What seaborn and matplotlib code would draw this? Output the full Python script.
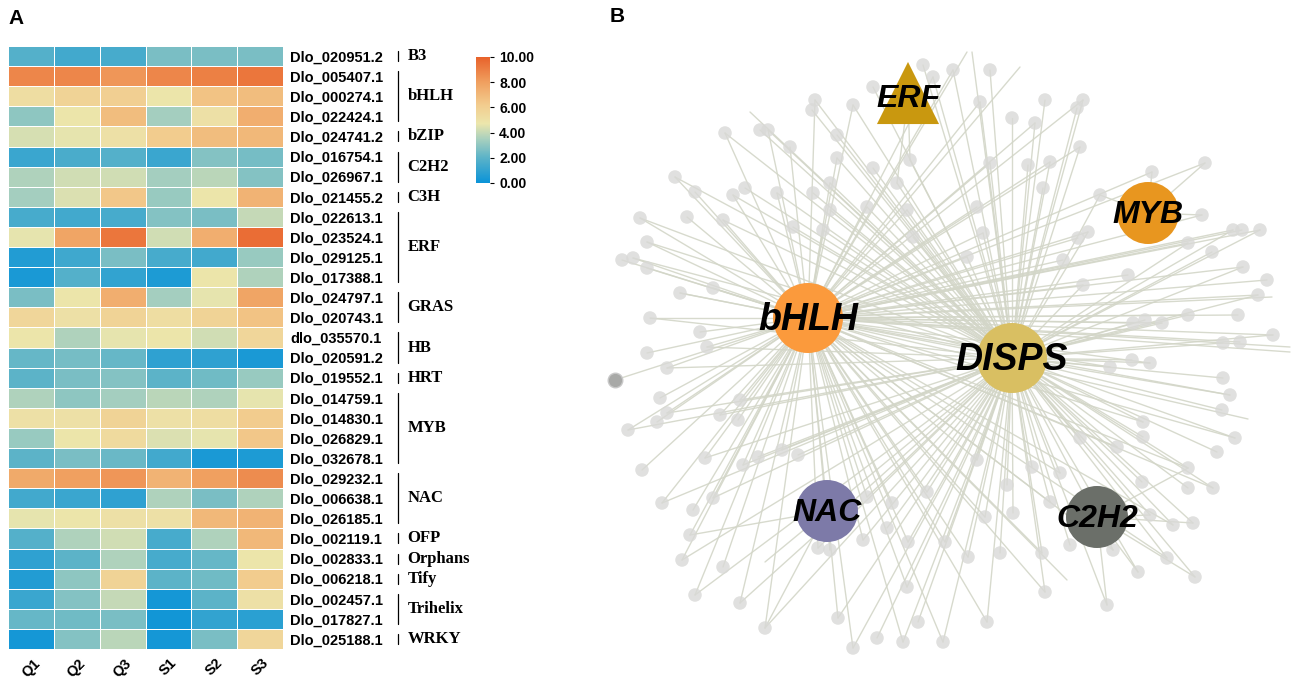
import numpy as np
import pandas as pd
import matplotlib
matplotlib.use('Agg')
import matplotlib.pyplot as plt
import seaborn as sns
from matplotlib.colors import LinearSegmentedColormap
from matplotlib.transforms import blended_transform_factory

sns.set_style('white')
plt.rcParams['font.family'] = ['Liberation Sans', 'DejaVu Sans']
plt.rcParams['text.color'] = 'black'
plt.rcParams['xtick.color'] = 'black'
plt.rcParams['ytick.color'] = 'black'

# ---------------- panel A data ----------------
samples = ['Q1', 'Q2', 'Q3', 'S1', 'S2', 'S3']
genes = ['Dlo_020951.2', 'Dlo_005407.1', 'Dlo_000274.1', 'Dlo_022424.1', 'Dlo_024741.2',
         'Dlo_016754.1', 'Dlo_026967.1', 'Dlo_021455.2', 'Dlo_022613.1', 'Dlo_023524.1',
         'Dlo_029125.1', 'Dlo_017388.1', 'Dlo_024797.1', 'Dlo_020743.1', 'dlo_035570.1',
         'Dlo_020591.2', 'Dlo_019552.1', 'Dlo_014759.1', 'Dlo_014830.1', 'Dlo_026829.1',
         'Dlo_032678.1', 'Dlo_029232.1', 'Dlo_006638.1', 'Dlo_026185.1', 'Dlo_002119.1',
         'Dlo_002833.1', 'Dlo_006218.1', 'Dlo_002457.1', 'Dlo_017827.1', 'Dlo_025188.1']
expr = [
    [1.8, 1.4, 1.5, 2.6, 2.6, 2.6],
    [8.8, 8.8, 8.3, 8.8, 9.0, 9.3],
    [5.2, 5.8, 6.0, 4.8, 6.6, 6.8],
    [3.0, 4.8, 6.8, 3.4, 5.0, 7.4],
    [4.3, 4.6, 5.0, 6.2, 6.8, 7.0],
    [1.2, 1.6, 1.8, 1.2, 2.8, 2.5],
    [3.6, 4.2, 4.2, 3.4, 3.8, 2.8],
    [3.4, 4.4, 6.4, 3.2, 4.8, 7.2],
    [1.5, 1.4, 1.5, 2.8, 2.6, 4.0],
    [4.6, 7.8, 9.3, 4.2, 7.4, 9.6],
    [0.6, 1.3, 2.6, 1.5, 1.4, 3.2],
    [0.4, 1.8, 1.0, 0.5, 4.8, 3.6],
    [2.6, 4.8, 7.4, 3.4, 4.6, 7.8],
    [5.6, 5.0, 5.8, 5.2, 5.8, 6.6],
    [4.8, 3.6, 4.6, 4.8, 4.2, 5.6],
    [2.2, 2.5, 2.2, 0.9, 0.9, 0.4],
    [2.0, 2.6, 2.8, 2.0, 2.4, 3.2],
    [3.6, 3.0, 3.4, 3.8, 3.6, 4.6],
    [5.0, 5.0, 5.8, 5.0, 5.2, 6.2],
    [3.2, 4.8, 5.4, 4.4, 4.6, 6.4],
    [2.0, 2.6, 2.3, 1.4, 0.4, 0.5],
    [7.6, 8.0, 8.3, 7.2, 8.0, 8.6],
    [1.4, 1.2, 0.9, 3.6, 2.6, 3.6],
    [4.6, 4.8, 5.0, 5.0, 7.0, 7.2],
    [1.8, 3.6, 4.2, 1.5, 3.6, 7.0],
    [0.9, 2.0, 3.6, 1.5, 2.2, 4.8],
    [0.6, 3.0, 5.8, 2.0, 2.4, 6.2],
    [1.2, 2.8, 4.0, 0.3, 2.0, 5.0],
    [2.2, 2.4, 2.6, 0.2, 1.0, 0.8],
    [0.3, 2.8, 3.8, 0.3, 2.6, 5.6],
]
families = ['B3', 'bHLH', 'bZIP', 'C2H2', 'C3H', 'ERF', 'GRAS', 'HB', 'HRT',
            'MYB', 'NAC', 'OFP', 'Orphans', 'Tify', 'Trihelix', 'WRKY']
family_sizes = [1, 3, 1, 2, 1, 4, 2, 2, 1, 4, 3, 1, 1, 1, 2, 1]

# ---------------- panel B data ----------------
# hubs, positions in picture pixels
hub_names = ['bHLH', 'DISPS', 'ERF', 'MYB', 'NAC', 'C2H2']
hub_codes = ['b', 'd', 'e', 'm', 'n', 'c']
hub_x = [808, 1012, 908, 1148, 827, 1097]
hub_y = [318, 358, 97, 213, 511, 517]
hub_colors = ['#fb9a3c', '#d9bf62', '#c9980f', '#e8961f', '#7d7aa8', '#6b6f69']

# target genes: (x, y, hubs they link to)
targets = [
    (923, 65, 'd'), (933, 77, 'bd'), (873, 87, 'd'), (815, 100, 'bd'), (812, 110, 'd'),
    (853, 105, 'bd'), (725, 133, 'bd'), (760, 130, 'd'), (768, 130, 'bd'), (790, 147, 'b'),
    (837, 135, 'd'), (837, 158, 'bd'), (910, 160, 'de'), (873, 168, 'd'), (675, 177, 'bd'),
    (695, 192, 'b'), (733, 195, 'bd'), (745, 188, 'd'), (777, 193, 'bd'), (813, 193, 'd'),
    (830, 183, 'bd'), (897, 183, 'de'), (953, 70, 'bd'), (990, 70, 'd'), (980, 102, 'bd'),
    (1012, 118, 'd'), (1035, 123, 'bd'), (1045, 100, 'd'), (1083, 100, 'bd'), (1077, 108, 'd'),
    (1080, 147, 'bd'), (1028, 165, 'd'), (1050, 162, 'bd'), (1043, 188, 'd'), (990, 163, 'bd'),
    (1100, 195, 'dm'), (1152, 172, 'bm'), (1205, 163, 'bm'),
    (640, 218, 'bd'), (687, 217, 'b'), (723, 220, 'bd'), (793, 227, 'd'), (823, 230, 'bd'),
    (647, 242, 'bd'), (622, 260, 'b'), (633, 258, 'bd'), (647, 268, 'b'), (680, 293, 'bd'),
    (713, 288, 'b'), (907, 210, 'bd'), (913, 237, 'd'), (867, 207, 'bd'), (830, 210, 'd'),
    (1202, 215, 'bm'), (1233, 230, 'bd'), (1242, 230, 'b'), (1260, 230, 'bd'), (1088, 232, 'bd'),
    (1078, 238, 'b'), (1188, 243, 'bd'), (1212, 252, 'd'), (1243, 267, 'bd'), (1267, 280, 'b'),
    (1258, 295, 'bd'), (1128, 275, 'b'), (1083, 285, 'bd'), (977, 207, 'b'), (983, 233, 'bd'),
    (1063, 260, 'b'), (967, 257, 'bd'),
    (650, 318, 'bd'), (700, 332, 'b'), (707, 347, 'bd'), (647, 353, 'b'), (667, 368, 'bd'),
    (660, 398, 'b'), (667, 413, 'bd'), (657, 422, 'b'), (628, 430, 'bd'), (720, 415, 'bd'),
    (738, 420, 'b'), (740, 400, 'bd'),
    (1188, 315, 'bd'), (1238, 315, 'b'), (1162, 323, 'bd'), (1145, 320, 'd'), (1133, 323, 'bd'),
    (1273, 335, 'bd'), (1240, 342, 'b'), (1223, 343, 'd'), (1110, 367, 'bd'), (1132, 360, 'd'),
    (1150, 363, 'bd'), (1223, 378, 'd'), (1230, 395, 'bd'), (1222, 410, 'd'),
    (705, 458, 'bd'), (642, 470, 'b'), (743, 465, 'bd'), (758, 457, 'd'), (782, 450, 'bd'),
    (798, 455, 'd'), (867, 497, 'bd'), (892, 503, 'b'), (927, 492, 'bd'),
    (1143, 422, 'bd'), (1143, 437, 'd'), (1235, 438, 'bd'), (1217, 452, 'd'), (1117, 447, 'bd'),
    (1080, 438, 'd'), (1188, 468, 'bdc'), (1188, 488, 'd'), (1213, 488, 'bd'), (1142, 482, 'd'),
    (1060, 473, 'bd'), (1007, 485, 'd'), (977, 460, 'bd'), (1032, 467, 'd'),
    (662, 503, 'bd'), (693, 510, 'b'), (713, 498, 'bd'), (690, 535, 'bn'), (682, 560, 'bd'),
    (723, 567, 'b'), (695, 595, 'bd'), (818, 548, 'bd'), (830, 550, 'bn'), (863, 540, 'bd'),
    (887, 528, 'd'), (908, 542, 'bd'), (907, 587, 'bd'), (945, 542, 'bd'),
    (985, 517, 'bd'), (1013, 513, 'd'), (1050, 502, 'bd'), (1150, 515, 'dc'), (1173, 525, 'bd'),
    (1193, 523, 'dc'), (968, 557, 'bd'), (1000, 553, 'd'), (1042, 553, 'bd'), (1070, 545, 'd'),
    (1113, 550, 'bdc'), (1138, 572, 'dc'), (1167, 558, 'bd'), (1195, 577, 'dc'), (1045, 592, 'bd'),
    (740, 603, 'bd'), (765, 628, 'bdn'), (838, 618, 'bd'), (853, 648, 'bd'), (877, 638, 'd'),
    (903, 642, 'bd'), (918, 622, 'd'), (943, 642, 'bd'), (1107, 605, 'dc'), (987, 622, 'bd'),
]
# edges that end without a drawn node
loose_ends = [(967, 52, 'b'), (972, 52, 'd'), (1020, 67, 'b'), (750, 112, 'd'),
              (1290, 352, 'b'), (1290, 347, 'b'), (1272, 297, 'b'), (1248, 419, 'b'),
              (1067, 580, 'b'), (765, 562, 'd')]
odd_node = (615, 380, 'b')

# ---------------- figure ----------------
fig = plt.figure(figsize=(12.99, 6.85), dpi=100)

cmap = LinearSegmentedColormap.from_list('expr', [
    (0.0, '#0a93d8'), (0.2, '#5cb3c8'), (0.35, '#a9d0be'), (0.47, '#ece6ac'),
    (0.62, '#f2cc8e'), (0.8, '#f0a060'), (1.0, '#e8612a')])

df = pd.DataFrame(expr, index=genes, columns=samples)

ax = fig.add_axes([8 / 1299, 1 - 649 / 685, 275 / 1299, 603 / 685])
cax = fig.add_axes([476 / 1299, 1 - 183 / 685, 14 / 1299, 126 / 685])
sns.heatmap(df, ax=ax, cmap=cmap, vmin=0, vmax=10, linewidths=0.6, linecolor='white',
            cbar_ax=cax, cbar_kws={'ticks': [0, 2, 4, 6, 8, 10], 'format': '%.2f'})
ax.yaxis.tick_right()
ax.tick_params(axis='y', length=0, pad=5, labelsize=10.5, rotation=0)
ax.tick_params(axis='x', length=0, pad=5, labelsize=10.5)
for t in ax.get_yticklabels():
    t.set_fontweight('bold')
for t in ax.get_xticklabels():
    t.set_fontweight('bold')
    t.set_rotation(45)
    t.set_ha('center')
    t.set_va('top')

cax.tick_params(labelsize=10, length=3, width=0.8)
for t in cax.get_yticklabels():
    t.set_fontweight('bold')
ax.collections[0].colorbar.outline.set_visible(False)

# family brackets
trans = blended_transform_factory(ax.transAxes, ax.transData)
start = 0
for fam, n in zip(families, family_sizes):
    y0, y1 = start + 0.25, start + n - 0.25
    ax.plot([1.418, 1.418], [y0, y1], color='black', lw=0.9, transform=trans, clip_on=False)
    ax.text(1.452, start + n / 2, fam, transform=trans, ha='left', va='center',
            fontsize=12, fontweight='bold', family='Liberation Serif')
    start += n

fig.text(8 / 1299, 1 - 18 / 685, 'A', fontsize=15, fontweight='bold', va='center')
fig.text(610 / 1299, 1 - 16 / 685, 'B', fontsize=15, fontweight='bold', va='center')

# ---------------- panel B ----------------
axb = fig.add_axes([600 / 1299, 0, 699 / 1299, 1])
axb.set_xlim(600, 1299)
axb.set_ylim(685, 0)
axb.axis('off')

hub_pos = {c: (x, y) for c, x, y in zip(hub_codes, hub_x, hub_y)}
for x, y, links in targets + loose_ends + [odd_node]:
    for c in links:
        hx, hy = hub_pos[c]
        axb.plot([x, hx], [y, hy], color='#d3d6c8', lw=1.0, alpha=0.9, zorder=1)

tx = [t[0] for t in targets]
ty = [t[1] for t in targets]
axb.scatter(tx, ty, s=95, color='#d9d9d7', alpha=0.8, edgecolor='none', zorder=2)
axb.scatter([odd_node[0]], [odd_node[1]], s=110, color='#a8a9a7', edgecolor='#c8c8c8',
            lw=1, zorder=3)

for name, x, y, col in zip(hub_names, hub_x, hub_y, hub_colors):
    if name == 'ERF':
        axb.scatter([x], [y - 4], marker='^', s=2000, color=col, edgecolor='none', zorder=4)
        fs = 23
    else:
        r = 35 if name in ('bHLH', 'DISPS') else 31
        axb.add_patch(plt.Circle((x, y), r, color=col, zorder=4, lw=0))
        fs = 27 if name in ('bHLH', 'DISPS') else 23
    axb.text(x, y + 2, name, ha='center', va='center', fontsize=fs, fontweight='bold',
             fontstyle='italic', color='black', zorder=5)

fig.savefig('out.png', dpi=100)
